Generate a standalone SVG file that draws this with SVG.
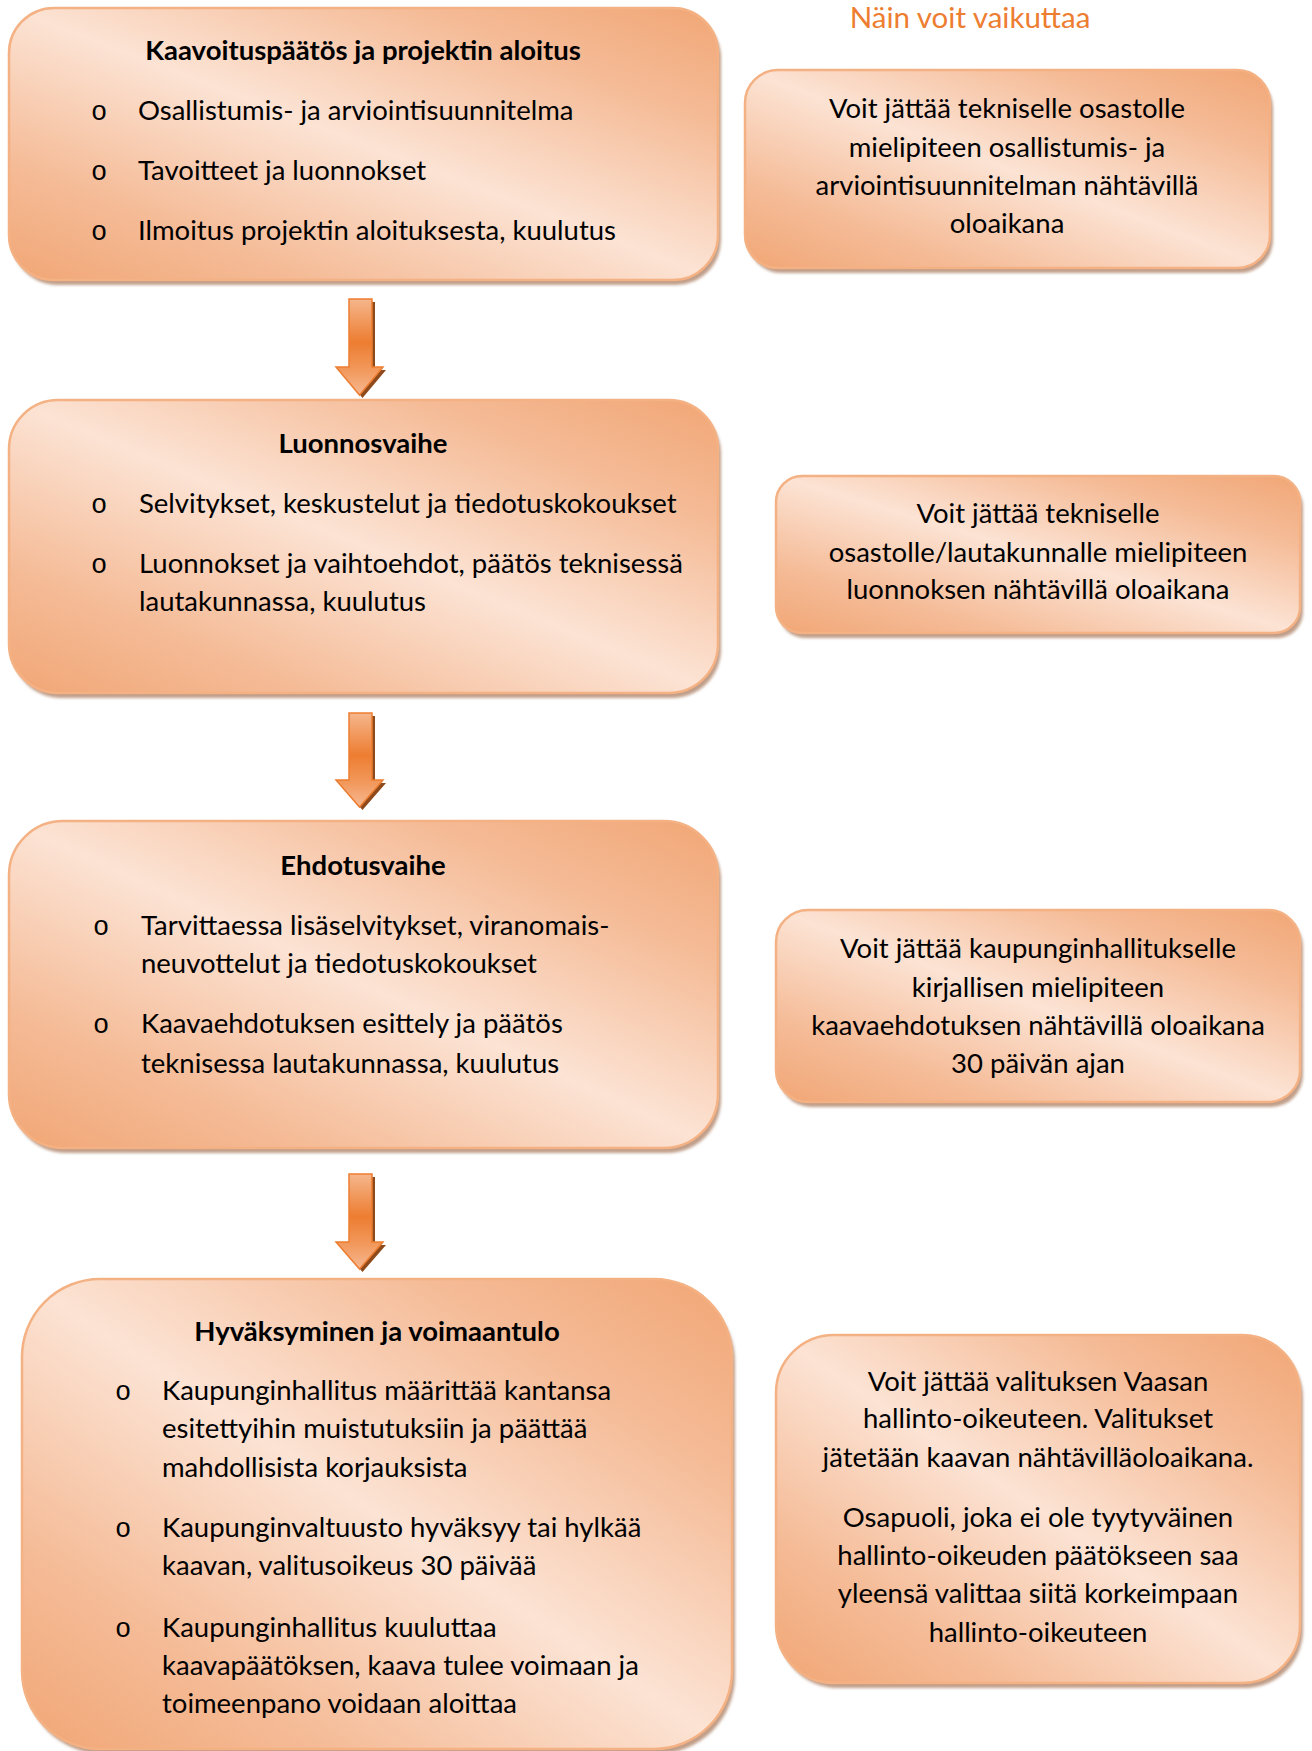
<svg xmlns="http://www.w3.org/2000/svg" width="1312" height="1751" viewBox="0 0 1312 1751">
<defs>
<linearGradient id="boxg" x1="1" y1="0" x2="0" y2="1">
<stop offset="0" stop-color="#f1a675"/>
<stop offset="0.22" stop-color="#f5bc98"/>
<stop offset="0.5" stop-color="#fce3d4"/>
<stop offset="0.78" stop-color="#f5bc98"/>
<stop offset="1" stop-color="#f1a675"/>
</linearGradient>
<linearGradient id="arrg" x1="0" y1="0" x2="0" y2="1">
<stop offset="0" stop-color="#f5b68c"/>
<stop offset="0.45" stop-color="#ed7d31"/>
<stop offset="0.75" stop-color="#f29a5e"/>
<stop offset="1" stop-color="#f6b892"/>
</linearGradient>
<filter id="blur" x="-5%" y="-5%" width="110%" height="115%">
<feGaussianBlur stdDeviation="1.5"/>
</filter>
</defs>
<style>
.shadow{fill:#b58d74;opacity:0.85;filter:url(#blur)}
.box{fill:url(#boxg);stroke:#f4b183;stroke-width:2.5}
.t{font-family:Lato,"Liberation Sans",sans-serif;font-size:27.5px;fill:#000}
.b{font-weight:bold}
.c{text-anchor:middle}
.bul{font-family:"Liberation Mono",monospace;font-size:27px;text-anchor:middle;fill:#000}
.hdr{font-family:Lato,"Liberation Sans",sans-serif;font-size:29.5px;fill:#ed7d31;text-anchor:middle}
.arr{fill:url(#arrg);stroke:#ed7d31;stroke-width:1.5;stroke-linejoin:miter}
.arrs{fill:#8f4a1c}
</style>
<rect width="1312" height="1751" fill="#ffffff"/>

<text class="hdr" x="970" y="28">Näin voit vaikuttaa</text>

<g id="step1">
<rect class="shadow" x="12" y="13" width="709" height="272" rx="45"/>
<rect class="box" x="9" y="8" width="709" height="272" rx="45"/>
<text class="t b c" x="363" y="60">Kaavoituspäätös ja projektin aloitus</text>
<text class="bul" x="99" y="120">o</text>
<text class="t" x="138" y="120">Osallistumis- ja arviointisuunnitelma</text>
<text class="bul" x="99" y="180">o</text>
<text class="t" x="138" y="180">Tavoitteet ja luonnokset</text>
<text class="bul" x="99" y="240">o</text>
<text class="t" x="138" y="240">Ilmoitus projektin aloituksesta, kuulutus</text>
</g>

<g id="step2">
<rect class="shadow" x="12" y="405" width="709" height="293" rx="49"/>
<rect class="box" x="9" y="400" width="709" height="293" rx="49"/>
<text class="t b c" x="363" y="453">Luonnosvaihe</text>
<text class="bul" x="99" y="513">o</text>
<text class="t" x="139" y="513">Selvitykset, keskustelut ja tiedotuskokoukset</text>
<text class="bul" x="99" y="573">o</text>
<text class="t" x="139" y="573">Luonnokset ja vaihtoehdot, päätös teknisessä</text>
<text class="t" x="139" y="611">lautakunnassa, kuulutus</text>
</g>

<g id="step3">
<rect class="shadow" x="12" y="826" width="709" height="327" rx="54"/>
<rect class="box" x="9" y="821" width="709" height="327" rx="54"/>
<text class="t b c" x="363" y="875">Ehdotusvaihe</text>
<text class="bul" x="101" y="935">o</text>
<text class="t" x="141" y="935">Tarvittaessa lisäselvitykset, viranomais-</text>
<text class="t" x="141" y="973">neuvottelut ja tiedotuskokoukset</text>
<text class="bul" x="101" y="1033">o</text>
<text class="t" x="141" y="1033">Kaavaehdotuksen esittely ja päätös</text>
<text class="t" x="141" y="1073">teknisessa lautakunnassa, kuulutus</text>
</g>

<g id="step4">
<rect class="shadow" x="25" y="1284" width="710" height="470" rx="78"/>
<rect class="box" x="22" y="1279" width="710" height="470" rx="78"/>
<text class="t b c" x="377" y="1341">Hyväksyminen ja voimaantulo</text>
<text class="bul" x="123" y="1400">o</text>
<text class="t" x="162" y="1400">Kaupunginhallitus määrittää kantansa</text>
<text class="t" x="162" y="1438">esitettyihin muistutuksiin ja päättää</text>
<text class="t" x="162" y="1477">mahdollisista korjauksista</text>
<text class="bul" x="123" y="1537">o</text>
<text class="t" x="162" y="1537">Kaupunginvaltuusto hyväksyy tai hylkää</text>
<text class="t" x="162" y="1575">kaavan, valitusoikeus 30 päivää</text>
<text class="bul" x="123" y="1637">o</text>
<text class="t" x="162" y="1637">Kaupunginhallitus kuuluttaa</text>
<text class="t" x="162" y="1675">kaavapäätöksen, kaava tulee voimaan ja</text>
<text class="t" x="162" y="1713">toimeenpano voidaan aloittaa</text>
</g>

<g id="info1">
<rect class="shadow" x="748" y="75" width="525" height="198" rx="33"/>
<rect class="box" x="745" y="70" width="525" height="198" rx="33"/>
<text class="t c" x="1007" y="118">Voit jättää tekniselle osastolle</text>
<text class="t c" x="1007" y="157">mielipiteen osallistumis- ja</text>
<text class="t c" x="1007" y="195">arviointisuunnitelman nähtävillä</text>
<text class="t c" x="1007" y="233">oloaikana</text>
</g>

<g id="info2">
<rect class="shadow" x="779" y="481" width="524" height="157" rx="26"/>
<rect class="box" x="776" y="476" width="524" height="157" rx="26"/>
<text class="t c" x="1038" y="523">Voit jättää tekniselle</text>
<text class="t c" x="1038" y="562">osastolle/lautakunnalle mielipiteen</text>
<text class="t c" x="1038" y="599">luonnoksen nähtävillä oloaikana</text>
</g>

<g id="info3">
<rect class="shadow" x="779" y="915" width="524" height="192" rx="32"/>
<rect class="box" x="776" y="910" width="524" height="192" rx="32"/>
<text class="t c" x="1038" y="958">Voit jättää kaupunginhallitukselle</text>
<text class="t c" x="1038" y="997">kirjallisen mielipiteen</text>
<text class="t c" x="1038" y="1035">kaavaehdotuksen nähtävillä oloaikana</text>
<text class="t c" x="1038" y="1073">30 päivän ajan</text>
</g>

<g id="info4">
<rect class="shadow" x="779" y="1340" width="524" height="348" rx="58"/>
<rect class="box" x="776" y="1335" width="524" height="348" rx="58"/>
<text class="t c" x="1038" y="1391">Voit jättää valituksen Vaasan</text>
<text class="t c" x="1038" y="1428">hallinto-oikeuteen. Valitukset</text>
<text class="t c" x="1038" y="1467">jätetään kaavan nähtävilläoloaikana.</text>
<text class="t c" x="1038" y="1527">Osapuoli, joka ei ole tyytyväinen</text>
<text class="t c" x="1038" y="1565">hallinto-oikeuden päätökseen saa</text>
<text class="t c" x="1038" y="1603">yleensä valittaa siitä korkeimpaan</text>
<text class="t c" x="1038" y="1642">hallinto-oikeuteen</text>
</g>

<g id="connectors">
<polygon class="arrs" points="352,302 375,302 375,370 386,370 362.5,398 339,370 352,370"/>
<polygon class="arr" points="349,299 372,299 372,367 383,367 359.5,395 336,367 349,367"/>
<polygon class="arrs" points="352,716 375,716 375,783 386,783 362.5,810 339,783 352,783"/>
<polygon class="arr" points="349,713 372,713 372,780 383,780 359.5,807 336,780 349,780"/>
<polygon class="arrs" points="352,1177 375,1177 375,1245 386,1245 362.5,1272 339,1245 352,1245"/>
<polygon class="arr" points="349,1174 372,1174 372,1242 383,1242 359.5,1269 336,1242 349,1242"/>
</g>
</svg>
